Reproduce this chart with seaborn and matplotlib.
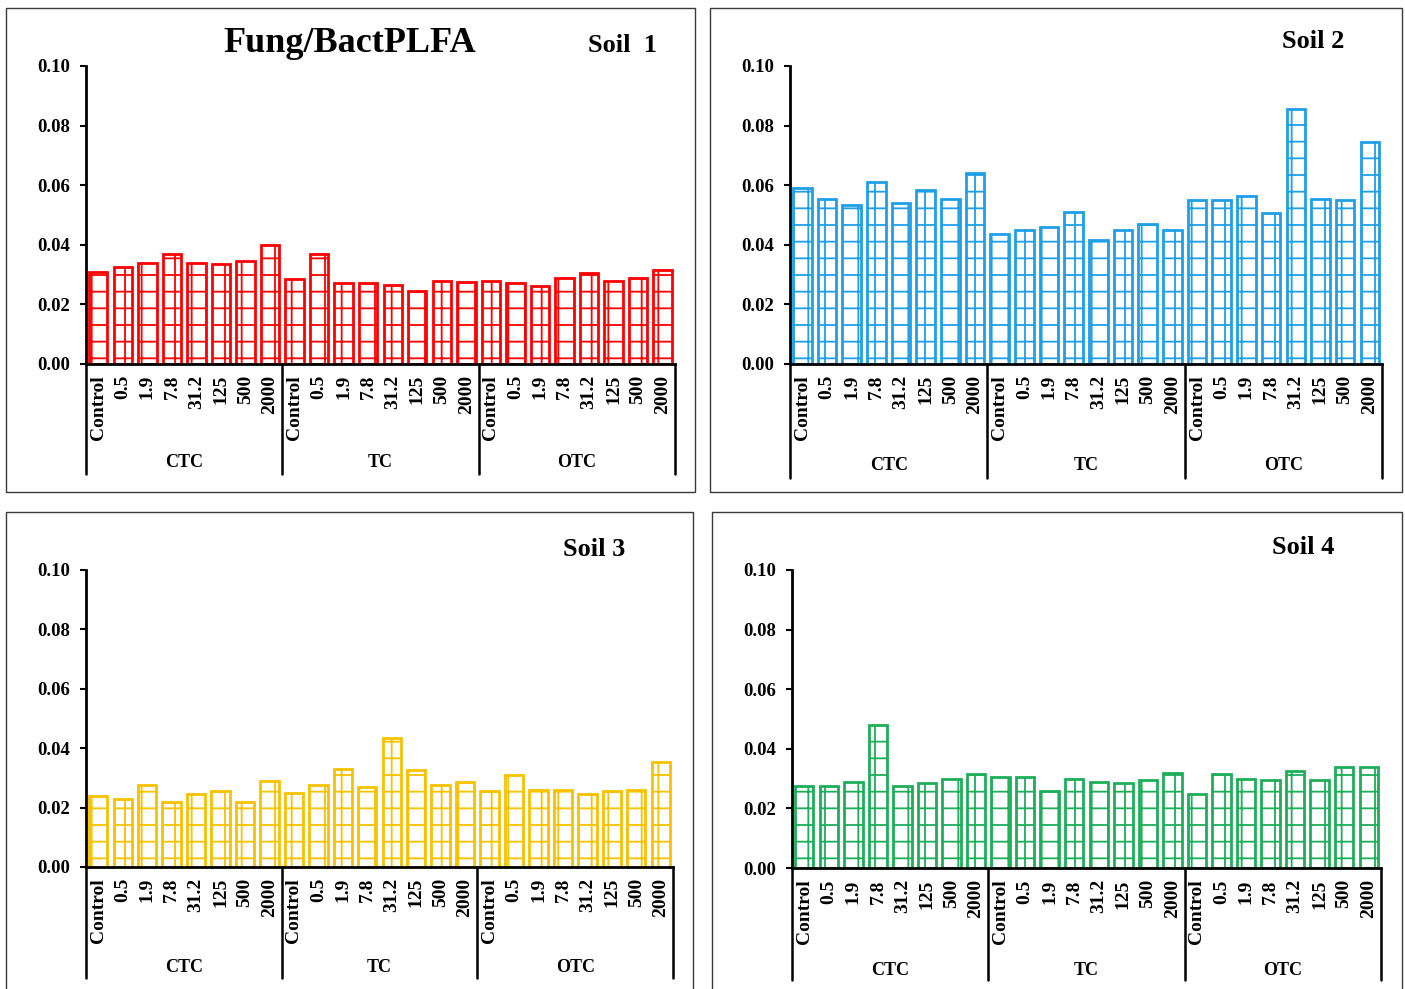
import numpy as np
import pandas as pd
import matplotlib
matplotlib.use("Agg")
import matplotlib.pyplot as plt
import matplotlib.transforms as mtransforms
from matplotlib.patches import Rectangle
import seaborn as sns

# ---------------- data ----------------
concentrations = ["Control", "0.5", "1.9", "7.8", "31.2", "125", "500", "2000"]
groups = ["CTC", "TC", "OTC"]

soil1 = [0.031, 0.0325, 0.034, 0.037, 0.034, 0.0335, 0.0345, 0.040,
         0.0285, 0.037, 0.027, 0.027, 0.0265, 0.0245, 0.028, 0.0275,
         0.028, 0.027, 0.026, 0.029, 0.0305, 0.028, 0.029, 0.0315]
soil2 = [0.059, 0.0555, 0.0535, 0.061, 0.054, 0.0585, 0.0555, 0.064,
         0.0435, 0.045, 0.046, 0.051, 0.0415, 0.045, 0.047, 0.045,
         0.055, 0.055, 0.0565, 0.0505, 0.0855, 0.0555, 0.055, 0.0745]
soil3 = [0.024, 0.023, 0.0275, 0.022, 0.0245, 0.0255, 0.022, 0.029,
         0.025, 0.0275, 0.033, 0.027, 0.0435, 0.0325, 0.0275, 0.0285,
         0.0255, 0.031, 0.026, 0.026, 0.0245, 0.0255, 0.026, 0.0355]
soil4 = [0.0275, 0.0275, 0.029, 0.048, 0.0275, 0.0285, 0.030, 0.0315,
         0.0305, 0.0305, 0.026, 0.030, 0.029, 0.0285, 0.0295, 0.032,
         0.025, 0.0315, 0.030, 0.0295, 0.0325, 0.0295, 0.034, 0.034]

soil_names = ["Soil  1", "Soil 2", "Soil 3", "Soil 4"]
soil_values = [soil1, soil2, soil3, soil4]
colors = ["#FF0000", "#1E9FE8", "#F7C200", "#1DAE5A"]
yticks = [0.00, 0.02, 0.04, 0.06, 0.08, 0.10]

# ---------------- style ----------------
sns.set_theme(style="white")
plt.rcParams["font.family"] = ["Liberation Serif", "DejaVu Serif"]
plt.rcParams["font.weight"] = "bold"
plt.rcParams["hatch.linewidth"] = 1.3
for k in ["text.color", "axes.labelcolor", "xtick.color", "ytick.color"]:
    plt.rcParams[k] = "black"

fig = plt.figure(figsize=(14.05, 9.89), dpi=100)

# axes positions (fig fraction)
axes_pos = [
    [0.0612, 0.632, 0.4192, 0.3013],
    [0.5623, 0.632, 0.4214, 0.3013],
    [0.0612, 0.1234, 0.4178, 0.3003],
    [0.5637, 0.1223, 0.4192, 0.3014],
]
sep_bottom = [-0.369, -0.383, -0.374, -0.377]
grp_label_y = [-0.332, -0.342, -0.340, -0.343]
soil_label_pos = [(623, 46), (1313, 42), (594, 549), (1303, 548)]

# panel frames (pixels)
frames = [(6, 8, 695, 492), (710, 8, 1402, 492), (6, 512, 693, 1000), (712, 512, 1402, 1000)]
W, H = 1405, 989
for (x0, y0, x1, y1) in frames:
    fig.patches.append(Rectangle((x0 / W, 1 - y1 / H), (x1 - x0) / W, (y1 - y0) / H,
                                 transform=fig.transFigure, fill=False,
                                 edgecolor="#3a3a3a", linewidth=1.0, zorder=0))

keys = [f"{g}_{c}" for g in groups for c in concentrations]
xlabels = concentrations * len(groups)

for i, (vals, col) in enumerate(zip(soil_values, colors)):
    ax = fig.add_axes(axes_pos[i])
    df = pd.DataFrame({"key": keys, "value": vals})
    sns.barplot(data=df, x="key", y="value", order=keys, color=col,
                width=0.75, ax=ax, errorbar=None)
    for p in ax.patches:
        p.set_facecolor("white")
        p.set_hatch("+")
        p.set_edgecolor(col)
        p.set_linewidth(2.0)
    ax.set_xlim(-0.5, len(keys) - 0.5)
    ax.set_ylim(0, 0.10)
    ax.set_yticks(yticks)
    ax.set_yticklabels([f"{v:.2f}" for v in yticks], fontsize=13.5, fontweight="bold")
    ax.set_xticks(range(len(keys)))
    ax.set_xticklabels(xlabels, rotation=90, fontsize=14, fontweight="bold",
                       va="top", ha="center")
    ax.tick_params(axis="x", length=0, pad=8)
    ax.tick_params(axis="y", length=4.5, width=1.5, direction="out", pad=7, left=True)
    ax.set_xlabel("")
    ax.set_ylabel("")
    for s in ["top", "right"]:
        ax.spines[s].set_visible(False)
    for s in ["left", "bottom"]:
        ax.spines[s].set_color("black")
        ax.spines[s].set_linewidth(2.0)
    ax.grid(False)
    ax.set_facecolor("none")

    trans = mtransforms.blended_transform_factory(ax.transData, ax.transAxes)
    for b in [-0.5, 7.5, 15.5, 23.5]:
        ax.plot([b, b], [0, sep_bottom[i]], color="black", lw=1.8,
                transform=trans, clip_on=False)
    for gi, g in enumerate(groups):
        ax.text(gi * 8 + 3.5, grp_label_y[i], g, transform=trans, ha="center",
                va="center", fontsize=13, fontweight="bold")

    sx, sy = soil_label_pos[i]
    fig.text(sx / W, 1 - sy / H, soil_names[i], ha="center", va="center",
             fontsize=19, fontweight="bold")

fig.text(350 / W, 1 - 44 / H, "Fung/BactPLFA", ha="center", va="center",
         fontsize=26, fontweight="bold")

fig.savefig("out.png", dpi=100, facecolor="white")
